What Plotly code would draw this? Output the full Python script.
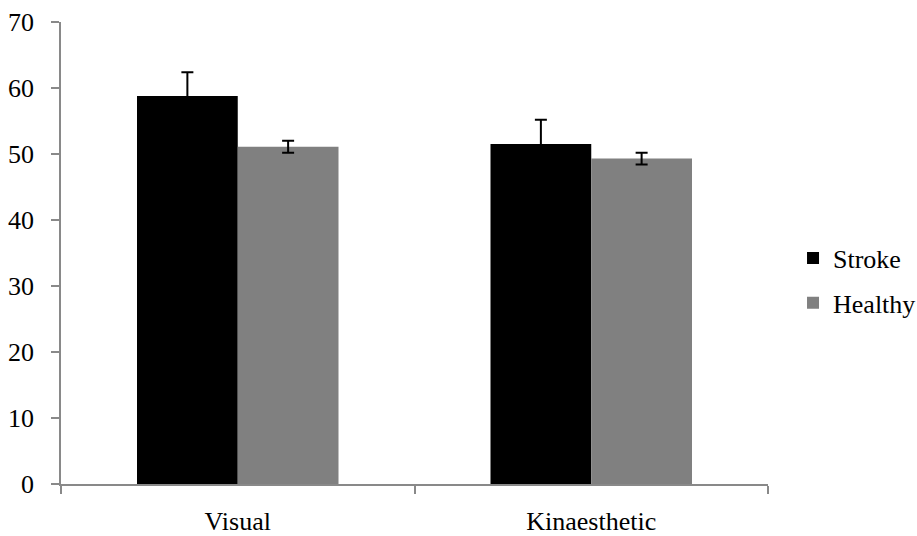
import plotly.graph_objects as go

categories = ["Visual", "Kinaesthetic"]
stroke_values = [58.8, 51.5]
stroke_errors = [3.6, 3.7]
healthy_values = [51.1, 49.3]
healthy_errors = [0.9, 0.9]
y_ticks = [0, 10, 20, 30, 40, 50, 60, 70]

FONT = "Liberation Serif"
FS = 26
AXIS_COLOR = "#898989"

fig = go.Figure()
fig.add_trace(go.Bar(
    name="Stroke", x=categories, y=stroke_values,
    marker=dict(color="#000000", line=dict(width=0)),
    error_y=dict(type="data", array=stroke_errors, visible=True,
                 color="#000000", thickness=2, width=6),
    legendgroup="s",
))
fig.add_trace(go.Bar(
    name="Healthy", x=categories, y=healthy_values,
    marker=dict(color="#808080", line=dict(width=0)),
    error_y=dict(type="data", array=healthy_errors, visible=True,
                 color="#000000", thickness=2, width=6),
    legendgroup="h",
))

fig.update_layout(
    width=917, height=536, autosize=False,
    margin=dict(l=61, r=149, t=22, b=52, autoexpand=False),
    paper_bgcolor="white", plot_bgcolor="white",
    barmode="group", bargap=0.43, bargroupgap=0,
    font=dict(family=FONT, size=FS, color="#000000"),
    showlegend=True,
    legend=dict(
        x=0.8648, y=0.4767, xref="container", yref="container",
        xanchor="left", yanchor="middle",
        font=dict(family=FONT, size=FS, color="#000000"),
        bgcolor="rgba(0,0,0,0)", borderwidth=0,
        itemwidth=30, traceorder="grouped", tracegroupgap=8,
    ),
    xaxis=dict(
        showline=True, linecolor=AXIS_COLOR, linewidth=1.5,
        ticks="outside", tickson="boundaries", ticklen=8,
        tickcolor=AXIS_COLOR, tickwidth=1.5,
        showgrid=False, zeroline=False,
        tickfont=dict(family=FONT, size=FS, color="#000000"),
        ticklabelstandoff=13,
    ),
    yaxis=dict(
        range=[0, 70], tickvals=y_ticks,
        showline=True, linecolor=AXIS_COLOR, linewidth=1.5,
        ticks="outside", ticklen=8, tickcolor=AXIS_COLOR, tickwidth=1.5,
        showgrid=False, zeroline=False,
        tickfont=dict(family=FONT, size=FS, color="#000000"),
        ticklabelstandoff=12,
    ),
)

fig.write_html("out.html")
